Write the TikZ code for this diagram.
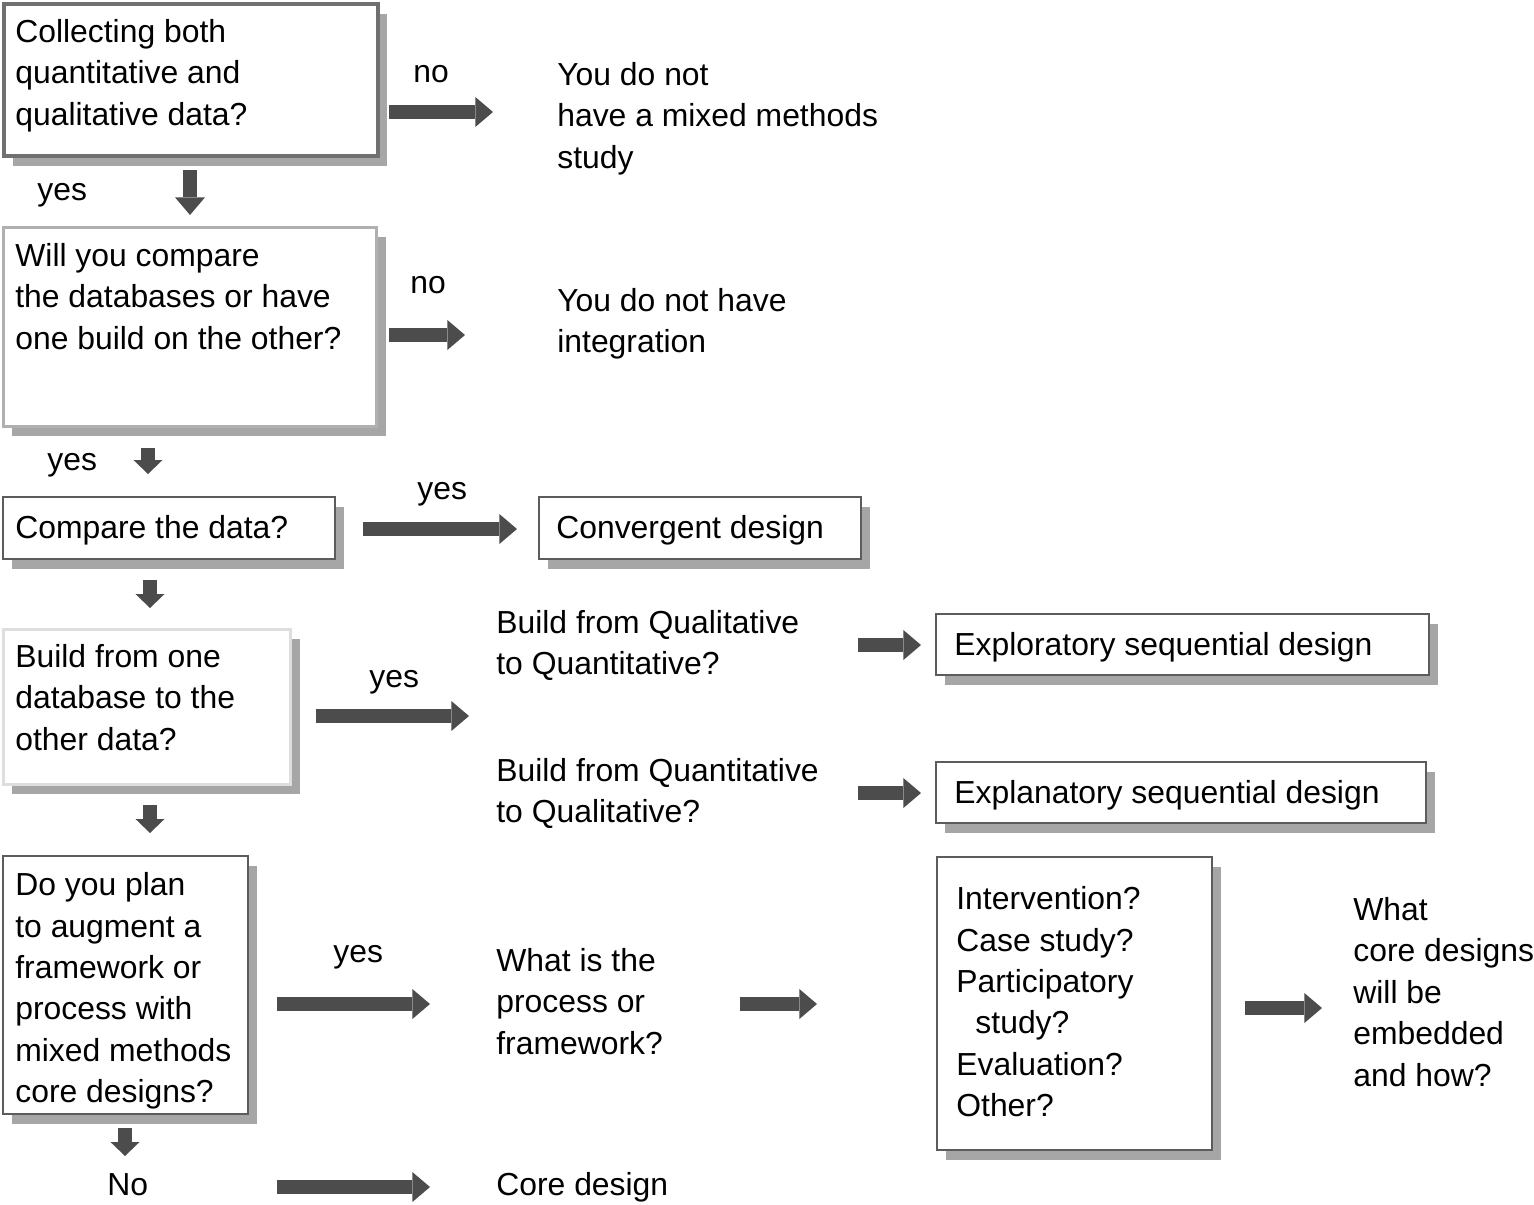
\documentclass[tikz,border=0pt]{standalone}
\usepackage{fontspec}
\setmainfont{Liberation Sans}
\usetikzlibrary{arrows.meta,shadows,fit,positioning}
\definecolor{arrowgray}{rgb}{0.30,0.30,0.30}
\definecolor{shadowgray}{rgb}{0.65,0.65,0.65}
\definecolor{edgegray}{rgb}{0.36,0.36,0.36}
\definecolor{midgray}{rgb}{0.44,0.44,0.44}
\definecolor{lightgray}{rgb}{0.69,0.69,0.69}
\definecolor{palegray}{rgb}{0.87,0.87,0.87}
\begin{document}
\begin{tikzpicture}[x=0.02cm,y=-0.02cm,
  txt/.style={anchor=base west,align=left,inner sep=0pt,font=\fontsize{18.14pt}{23.53pt}\selectfont},
  qbox/.style={draw=edgegray,line width=1.13pt,fill=white,inner sep=0pt,
    general shadow={fill=shadowgray,shadow xshift=0.18cm,shadow yshift=-0.19cm}},
  flow/.style={draw=arrowgray,line width=8.5pt,-{Triangle[length=10pt,width=17pt,line width=0pt]}},
  dflow/.style={draw=arrowgray,line width=8pt,-{Triangle[length=7.9pt,width=16.4pt,line width=0pt]}}]
\useasboundingbox (0,0) rectangle (1534,1204);
% boxes
\node (collectbox) [qbox, draw=midgray, line width=2.27pt, fit={(4,4) (378,156)}] {};
\node (comparebox) [qbox, draw=lightgray, line width=1.7pt, fit={(3.5,227.5) (376.5,426.5)}] {};
\node (cmpbox) [qbox, fit={(3,497) (335,559)}] {};
\node (buildbox) [qbox, draw=palegray, line width=1.7pt, fit={(3.5,629.5) (290.5,784.5)}] {};
\node (augmentbox) [qbox, fit={(3,856) (248,1114)}] {};
\node (convbox) [qbox, fit={(539,497) (861,559)}] {};
\node (explobox) [qbox, fit={(936,614) (1429,675)}] {};
\node (explabox) [qbox, fit={(936,762) (1426,823)}] {};
\node (kindsbox) [qbox, fit={(937,857) (1212,1150)}] {};
% texts (multi-line ones sit on their last baseline)
\node[txt] (collect) at (15,125) {Collecting both\\quantitative and\\qualitative data?};
\node[txt] (noone) at (413,82) {no};
\node[txt] (nomixed) at (557,168) {You do not\\have a mixed methods\\study};
\node[txt] (yesone) at (37,200) {yes};
\node[txt] (compare) at (15,349) {Will you compare\\the databases or have\\one build on the other?};
\node[txt] (notwo) at (410,293) {no};
\node[txt] (nointeg) at (557,352.5) {You do not have\\integration};
\node[txt] (yestwo) at (47,470) {yes};
\node[txt] (cmp) at (15,538) {Compare the data?};
\node[txt] (yesthree) at (417,499) {yes};
\node[txt] (conv) at (556,538) {Convergent design};
\node[txt] (build) at (15,750) {Build from one\\database to the\\other data?};
\node[txt] (yesfour) at (369,687) {yes};
\node[txt] (qualquan) at (496,674.5) {Build from Qualitative\\to Quantitative?};
\node[txt] (explo) at (954,655) {Exploratory sequential design};
\node[txt] (quanqual) at (496,822.5) {Build from Quantitative\\to Qualitative?};
\node[txt] (expla) at (954,803) {Explanatory sequential design};
\node[txt] (augment) at (15,1102.5) {Do you plan\\to augment a\\framework or\\process with\\mixed methods\\core designs?};
\node[txt] (yesfive) at (333,962) {yes};
\node[txt] (process) at (496,1054) {What is the\\process or\\framework?};
\node[txt] (kinds) at (956,1116.5) {Intervention?\\Case study?\\Participatory\\\hspace*{0.6em}study?\\Evaluation?\\Other?};
\node[txt] (embed) at (1353,1086) {What\\core designs\\will be\\embedded\\and how?};
\node[txt] (nofive) at (107,1195) {No};
\node[txt] (core) at (496,1195) {Core design};
% arrow ends
\coordinate (a1) at (389,112);  \coordinate (b1) at (493,112);
\coordinate (a2) at (389,335);  \coordinate (b2) at (465,335);
\coordinate (a3) at (363,529);  \coordinate (b3) at (517,529);
\coordinate (a4) at (316,716);  \coordinate (b4) at (469,716);
\coordinate (a5) at (858,645);  \coordinate (b5) at (921,645);
\coordinate (a6) at (858,793);  \coordinate (b6) at (921,793);
\coordinate (a7) at (277,1004); \coordinate (b7) at (430,1004);
\coordinate (a8) at (740,1004); \coordinate (b8) at (817,1004);
\coordinate (a9) at (1245,1008); \coordinate (b9) at (1322,1008);
\coordinate (a10) at (277,1187); \coordinate (b10) at (430,1187);
\coordinate (d1) at (190,170);  \coordinate (e1) at (190,215);
\coordinate (d2) at (148,448);  \coordinate (e2) at (148,474);
\coordinate (d3) at (150,580);  \coordinate (e3) at (150,608);
\coordinate (d4) at (150,805);  \coordinate (e4) at (150,833);
\coordinate (d5) at (125,1128); \coordinate (e5) at (125,1156);
\draw[flow] (a1)--(b1);
\draw[flow] (a2)--(b2);
\draw[flow] (a3)--(b3);
\draw[flow] (a4)--(b4);
\draw[flow] (a5)--(b5);
\draw[flow] (a6)--(b6);
\draw[flow] (a7)--(b7);
\draw[flow] (a8)--(b8);
\draw[flow] (a9)--(b9);
\draw[flow] (a10)--(b10);
\draw[flow] (d1)--(e1);
\draw[dflow] (d2)--(e2);
\draw[dflow] (d3)--(e3);
\draw[dflow] (d4)--(e4);
\draw[dflow] (d5)--(e5);
\end{tikzpicture}
\end{document}
